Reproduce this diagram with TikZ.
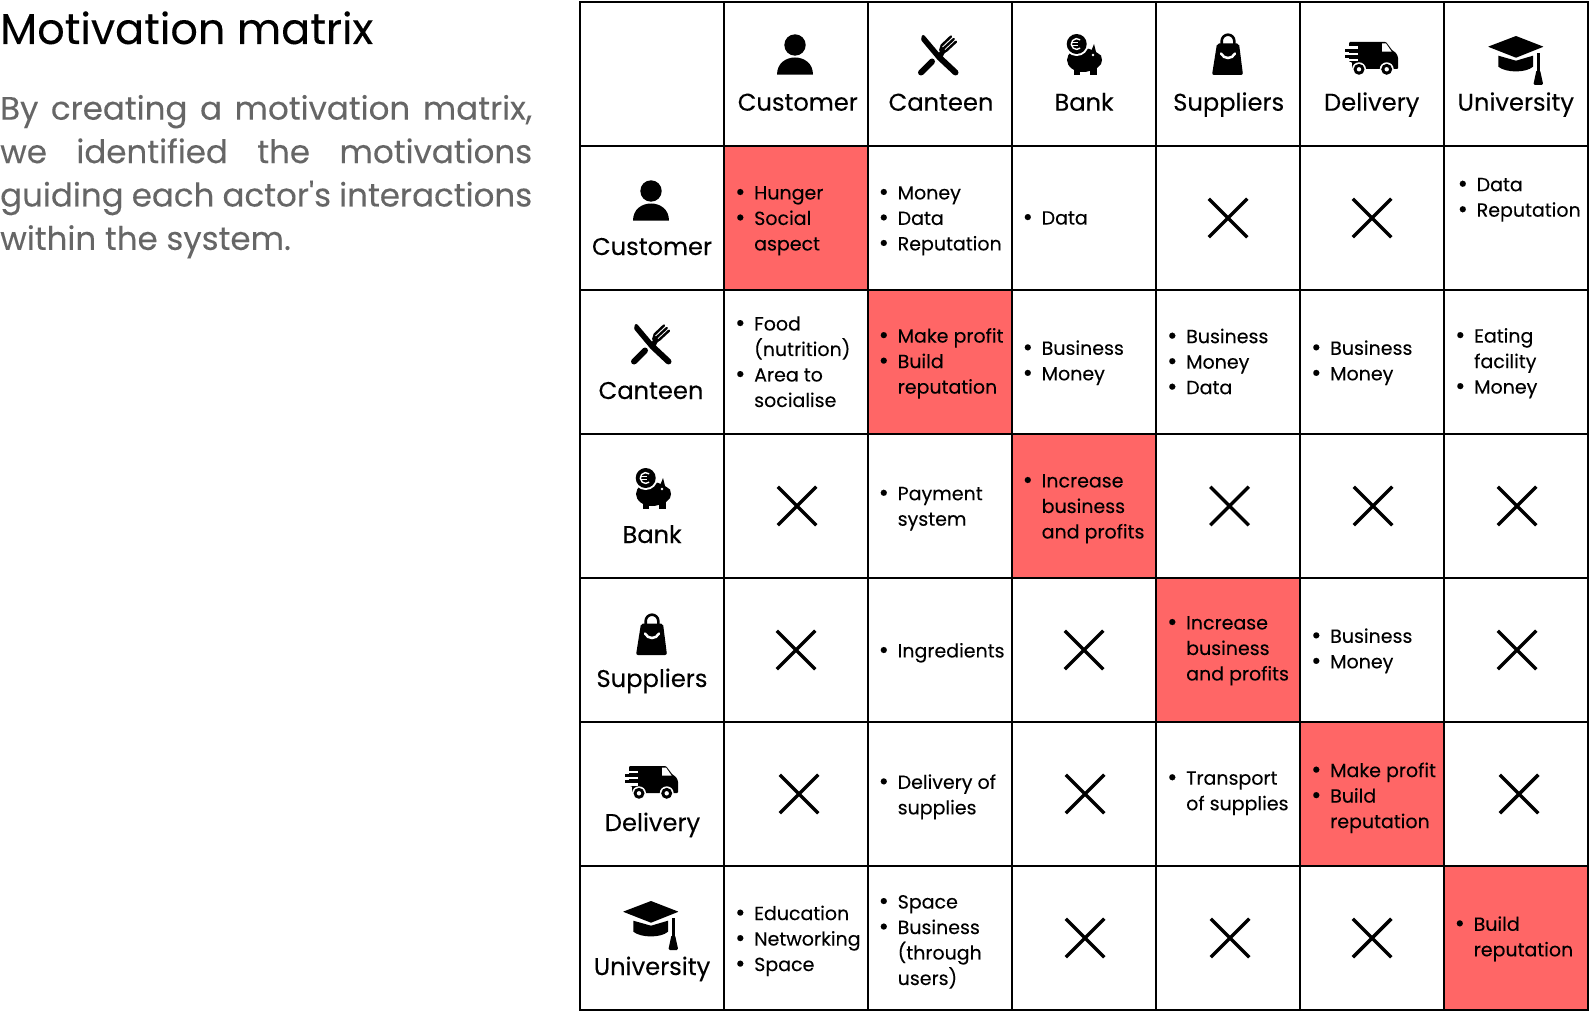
\documentclass[tikz,border=0pt]{standalone}
\usepackage{fontspec}
\setmainfont[FakeBold=0.12]{Poppins}
\newfontfamily\straightfont[FakeBold=0.12]{Poppins}
\usetikzlibrary{shapes.misc}
\definecolor{hot}{HTML}{FF6666}
\definecolor{para}{HTML}{666666}
\newcommand{\itm}{\makebox[19pt][l]{\raisebox{-0.8pt}{\scalebox{1.3}{\textbullet}}}}
\newcommand{\hng}{\hspace*{19pt}}
\tikzset{
  entry/.style={anchor=west, inner sep=0pt, xshift=-2pt, yshift=-2.8pt, align=left, font=\fontsize{19}{25.5}\selectfont},
  actor/.style={anchor=base, inner sep=0pt, font=\fontsize{24.2}{30}\selectfont},
  nope/.style={draw, cross out, minimum size=35pt, inner sep=0pt, line width=3.5pt},
  rule/.style={line width=2pt, line cap=rect},
  person/.pic={
    \fill (0,-15) circle (10.7);
    \fill (-18,14.7) .. controls (-18,3) and (-9,-2.5) .. (0,-2.5) .. controls (9,-2.5) and (18,3) .. (18,14.7) -- cycle;
  },
  cutlery/.pic={
    \fill[rounded corners=1pt] (-19,-15) -- (-18,-20) -- (-16,-20) -- (1.7,1) -- (-1.7,5.7) -- cycle;
    \draw[line width=6pt, line cap=round] (0,3) -- (15.5,17.5);
    \draw[line width=6pt, line cap=round] (-19,17.5) -- (-8,6.5);
    \draw[line width=5pt] (0,2) -- (3,-5);
    \fill (0.7,-10) -- (6.7,-3.3) -- (3,-0.5) -- (-1,-5) -- cycle;
    \draw[line width=2.4pt, line cap=round] (1.5,-9.5) -- (11,-18.5);
    \draw[line width=2.4pt, line cap=round] (3.5,-6.5) -- (13.8,-16);
    \draw[line width=2.4pt, line cap=round] (6,-4) -- (16,-13.3);
  },
  piggy/.pic={
    \fill (-2,0) ellipse (16 and 12);
    \fill (5,-6) -- (9,-16) -- (11,-8) -- (16,-4.5) -- (17,0) -- (16,4) -- (12,8) -- (5,8) -- cycle;
    \fill (-11,5) rectangle (-5,15);
    \fill (5,5) rectangle (12,15);
    \fill[white] (8,-5) circle (1.4);
    \fill[white] (-8.3,-16) circle (12);
    \fill (-8.3,-16) circle (10);
    \draw[white, line width=1.4pt] (-4.83,-20.14) arc (-50:-310:5.4);
    \draw[white, line width=1.2pt] (-14.5,-17.2) -- (-7.5,-17.2);
    \draw[white, line width=1.2pt] (-14.5,-14.8) -- (-7.5,-14.8);
  },
  bag/.pic={
    \fill[rounded corners=2pt] (-11,-16.5) -- (11,-16.5) -- (15,15) -- (-16,15) -- cycle;
    \draw[line width=2.6pt] (-6.3,-14) -- (-6.3,-19) arc (180:360:6.3) -- (6.3,-14);
    \draw[white, line width=2.5pt, line cap=round] (-7,-6.5) .. controls (-4,-0.5) and (4,-0.5) .. (7,-6.5);
  },
  truck/.pic={
    \fill[rounded corners=1pt] (-23,-15) -- (14,-15) -- (20,-7) -- (24,-4) -- (26,0) -- (26,12) -- (-20,12) -- (-20,5) -- (-23,5) -- cycle;
    \fill (-27,-7.5) rectangle (-15,-4.5);
    \fill (-27.5,-1.5) rectangle (-15,1.5);
    \fill[white] (-28,-10.5) rectangle (-14,-8);
    \fill[white] (-28,-4) rectangle (-14,-2);
    \fill[white] (-28,2) rectangle (-14,4.5);
    \fill[white] (10,-13.5) -- (14,-13.5) -- (19.7,-5.3) -- (10,-5.3) -- cycle;
    \fill[white] (-13,12.3) circle (7);
    \fill[white] (14.7,12.3) circle (7);
    \fill (-13,12.3) circle (5.5);
    \fill (14.7,12.3) circle (5.5);
    \fill[white] (-13,12.3) circle (2.2);
    \fill[white] (14.7,12.3) circle (2.2);
  },
  gradcap/.pic={
    \fill[rounded corners=0.5pt] (-28,-10.3) -- (0,-21) -- (27.5,-10.3) -- (0,0.7) -- cycle;
    \fill (-17.7,-1.3) -- (0,3.7) -- (17,-1.3) -- (17,9.7) .. controls (10,16) and (-10,16) .. (-17.7,9.7) -- cycle;
    \draw[line width=2.4pt] (22.3,-4) -- (22.3,15);
    \fill[rounded corners=1.5pt] (20.5,13) -- (24,13) -- (27.3,28) -- (17.3,28) -- cycle;
  },
}

\begin{document}
\begin{tikzpicture}[x=1pt, y=-1pt]
  \useasboundingbox (0,0) rectangle (1590,1011);
  \fill[white] (0,0) rectangle (1590,1011);

  \node[anchor=base west, inner sep=0pt, font=\fontsize{43}{50}\selectfont] (title) at (0,44) {Motivation matrix};
  \node[anchor=base west, inner sep=0pt, text width=532pt, align=justify, text=para, font=\fontsize{32.5}{43.4}\selectfont] (intro) at (0,119.7) {By creating a motivation matrix,\linebreak we identified the motivations\linebreak guiding each actor{\straightfont '}s interactions\linebreak within the system.};

  \fill[hot] (724.3,145.7) rectangle (868,289.7);
  \fill[hot] (868,289.7) rectangle (1012,433.7);
  \fill[hot] (1012,433.7) rectangle (1156,577.7);
  \fill[hot] (1156,577.7) rectangle (1300,721.7);
  \fill[hot] (1300,721.7) rectangle (1444,865.7);
  \fill[hot] (1444,865.7) rectangle (1588,1009.7);

  \draw[rule] (580.4,1.7) -- (1588,1.7);
  \draw[rule] (580.4,145.7) -- (1588,145.7);
  \draw[rule] (580.4,289.7) -- (1588,289.7);
  \draw[rule] (580.4,433.7) -- (1588,433.7);
  \draw[rule] (580.4,577.7) -- (1588,577.7);
  \draw[rule] (580.4,721.7) -- (1588,721.7);
  \draw[rule] (580.4,865.7) -- (1588,865.7);
  \draw[rule] (580.4,1009.7) -- (1588,1009.7);
  \draw[rule] (580.4,1.7) -- (580.4,1009.7);
  \draw[rule] (724.3,1.7) -- (724.3,1009.7);
  \draw[rule] (868,1.7) -- (868,1009.7);
  \draw[rule] (1012,1.7) -- (1012,1009.7);
  \draw[rule] (1156,1.7) -- (1156,1009.7);
  \draw[rule] (1300,1.7) -- (1300,1009.7);
  \draw[rule] (1444,1.7) -- (1444,1009.7);
  \draw[rule] (1588,1.7) -- (1588,1009.7);

  \pic at (795,60) {person};
  \pic at (940,55) {cutlery};
  \pic at (1085,60) {piggy};
  \pic at (1228,60) {bag};
  \pic at (1372,57) {truck};
  \pic at (1516,57) {gradcap};
  \pic at (651,206) {person};
  \pic at (653,344) {cutlery};
  \pic at (654,494) {piggy};
  \pic at (652,640) {bag};
  \pic at (652,781) {truck};
  \pic at (651,922) {gradcap};

  \node[actor] (top_customer) at (797.8,110.7) {Customer};
  \node[actor] (top_canteen) at (941,110.7) {Canteen};
  \node[actor] (top_bank) at (1084,110.7) {Bank};
  \node[actor] (top_suppliers) at (1228.7,110.7) {Suppliers};
  \node[actor] (top_delivery) at (1371.7,110.7) {Delivery};
  \node[actor] (top_university) at (1515.8,110.7) {University};
  \node[actor] (side_customer) at (652,255) {Customer};
  \node[actor] (side_canteen) at (651,399) {Canteen};
  \node[actor] (side_bank) at (652,543) {Bank};
  \node[actor] (side_suppliers) at (652,687) {Suppliers};
  \node[actor] (side_delivery) at (652.5,831) {Delivery};
  \node[actor] (side_university) at (652,975) {University};

  \node[entry] (c11) at (737,218) {\itm Hunger\\\itm Social\\\hng aspect};
  \node[entry] (c12) at (880.5,218) {\itm Money\\\itm Data\\\itm Reputation};
  \node[entry] (c13) at (1024.5,215.5) {\itm Data};
  \node[nope] (c14) at (1228,218) {};
  \node[nope] (c15) at (1372,218) {};
  \node[entry] (c16) at (1459.5,197) {\itm Data\\\itm Reputation};

  \node[entry] (c21) at (737,359) {\itm Food\\\hng (nutrition)\\\itm Area to\\\hng socialise};
  \node[entry] (c22) at (880.5,360.5) {\itm Make profit\\\itm Build\\\hng reputation};
  \node[entry] (c23) at (1024.5,360) {\itm Business\\\itm Money};
  \node[entry] (c24) at (1169,359) {\itm Business\\\itm Money\\\itm Data};
  \node[entry] (c25) at (1313,360) {\itm Business\\\itm Money};
  \node[entry] (c26) at (1457,360.5) {\itm Eating\\\hng facility\\\itm Money};

  \node[nope] (c31) at (797,506) {};
  \node[entry] (c32) at (880.5,506) {\itm Payment\\\hng system};
  \node[entry] (c33) at (1024.5,506) {\itm Increase\\\hng business\\\hng and profits};
  \node[nope] (c34) at (1229.5,506) {};
  \node[nope] (c35) at (1373,506) {};
  \node[nope] (c36) at (1517,506) {};

  \node[nope] (c41) at (796,650) {};
  \node[entry] (c42) at (880.5,650) {\itm Ingredients};
  \node[nope] (c43) at (1084,650) {};
  \node[entry] (c44) at (1169,648) {\itm Increase\\\hng business\\\hng and profits};
  \node[entry] (c45) at (1313,648) {\itm Business\\\itm Money};
  \node[nope] (c46) at (1517,650) {};

  \node[nope] (c51) at (799,794) {};
  \node[entry] (c52) at (880.5,794) {\itm Delivery of\\\hng supplies};
  \node[nope] (c53) at (1085,794) {};
  \node[entry] (c54) at (1169,790.5) {\itm Transport\\\hng of supplies};
  \node[entry] (c55) at (1313,795) {\itm Make profit\\\itm Build\\\hng reputation};
  \node[nope] (c56) at (1519,794) {};

  \node[entry] (c61) at (737,938) {\itm Education\\\itm Networking\\\itm Space};
  \node[entry] (c62) at (880.5,939) {\itm Space\\\itm Business\\\hng (through\\\hng users)};
  \node[nope] (c63) at (1085,938) {};
  \node[nope] (c64) at (1230,938) {};
  \node[nope] (c65) at (1372,938) {};
  \node[entry] (c66) at (1456.5,936) {\itm Build\\\hng reputation};
\end{tikzpicture}
\end{document}
